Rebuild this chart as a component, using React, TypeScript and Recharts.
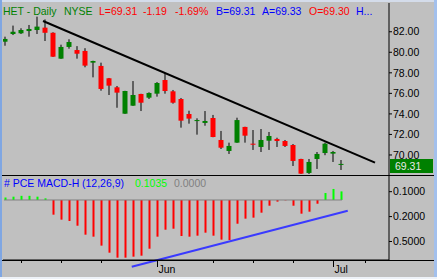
import React from 'react'
import { ComposedChart, Bar, XAxis, YAxis, ReferenceLine, Cell } from 'recharts'

// HET daily, May 4 - Jul 5 2006
const dates = [
  'May 4', 'May 5', 'May 8', 'May 9', 'May 10', 'May 11', 'May 12', 'May 15', 'May 16', 'May 17',
  'May 18', 'May 19', 'May 22', 'May 23', 'May 24', 'May 25', 'May 26', 'May 30', 'May 31', 'Jun 1',
  'Jun 2', 'Jun 5', 'Jun 6', 'Jun 7', 'Jun 8', 'Jun 9', 'Jun 12', 'Jun 13', 'Jun 14', 'Jun 15',
  'Jun 16', 'Jun 19', 'Jun 20', 'Jun 21', 'Jun 22', 'Jun 23', 'Jun 26', 'Jun 27', 'Jun 28', 'Jun 29',
  'Jun 30', 'Jul 3', 'Jul 5',
]
const open = [
  81.03, 81.78, 81.85, 82.07, 82.17, 82.40, 81.90, 79.38, 80.52, 80.22,
  80.13, 78.99, 78.67, 77.47, 76.59, 74.02, 74.80, 75.94, 75.58, 75.97,
  77.30, 76.20, 75.45, 73.99, 73.30, 73.12, 73.60, 71.46, 70.39, 71.20,
  72.73, 71.10, 70.78, 71.39, 71.56, 71.36, 70.97, 69.61, 68.25, 69.61,
  70.19, 70.13, 69.11,
]
const high = [
  81.52, 82.60, 82.34, 82.66, 83.47, 83.20, 81.95, 80.74, 81.27, 80.60,
  80.40, 79.18, 78.99, 77.50, 76.72, 76.25, 77.20, 75.96, 76.10, 77.10,
  77.96, 76.33, 75.55, 74.31, 73.57, 74.28, 73.90, 72.34, 71.20, 73.63,
  72.75, 72.43, 72.53, 72.24, 71.68, 71.46, 71.07, 69.63, 69.61, 70.29,
  71.20, 70.39, 69.51,
]
const low = [
  80.64, 81.68, 81.78, 81.52, 81.78, 81.10, 79.55, 79.36, 80.35, 79.38,
  78.54, 77.56, 76.26, 75.84, 74.60, 74.00, 74.78, 74.28, 75.45, 75.68,
  75.97, 75.00, 72.66, 73.05, 71.98, 72.85, 71.73, 70.58, 70.10, 71.18,
  71.20, 70.49, 70.29, 70.49, 70.78, 70.78, 68.93, 68.16, 68.15, 68.64,
  69.98, 69.32, 68.54,
]
const close = [
  81.30, 82.00, 82.17, 82.27, 82.50, 81.90, 79.57, 80.52, 81.00, 79.86,
  78.70, 79.15, 76.43, 76.75, 76.07, 76.23, 75.84, 75.09, 76.04, 77.01,
  76.23, 75.09, 73.34, 73.54, 73.40, 73.31, 71.75, 70.71, 70.88, 73.40,
  71.88, 71.00, 71.46, 71.85, 71.36, 70.88, 69.42, 68.18, 69.32, 70.10,
  71.10, 70.29, 69.13,
]
// MACD histogram (12,26,9)
const macdHist = [
  0.03, 0.04, 0.05, 0.05, 0.04, 0.02, -0.177, -0.237, -0.253, -0.31,
  -0.418, -0.442, -0.55, -0.635, -0.695, -0.695, -0.683, -0.671, -0.587, -0.442,
  -0.358, -0.346, -0.434, -0.442, -0.43, -0.394, -0.43, -0.478, -0.482, -0.286,
  -0.225, -0.213, -0.153, -0.069, -0.02, -0.004, -0.069, -0.165, -0.141, -0.045,
  0.084, 0.133, 0.1035,
]

const priceTicks = [70, 72, 74, 76, 78, 80, 82]
const macdTicks = [0.1, -0.2, -0.5]
// Mondays (bar index), month starts get a label
const weekTicks = [2, 7, 12, 19, 26, 31, 36, 41, 45]
const monthLabels: Record<number, string> = { 19: 'Jun', 41: 'Jul' }

// hand drawn trend lines (bar index, value)
const priceTrend = [{ i: 4.69, v: 83.05 }, { i: 46.19, v: 69.25 }]
const macdTrend = [{ i: 15.78, v: -0.804 }, { i: 42.78, v: -0.129 }]

const FONT = '"Liberation Sans", Arial, sans-serif'
const X_DOMAIN: [number, number] = [-0.3125, 47.9375]

const rows = dates.map((date, i) => ({
  i,
  date,
  open: open[i],
  high: high[i],
  low: low[i],
  close: close[i],
  range: [low[i], high[i]],
  macd: macdHist[i],
}))

function Candle(props: any) {
  const { x, y, width, height, payload } = props
  let top = y
  let h = height
  if (h < 0) { top = y + h; h = -h }
  const k = h / (payload.high - payload.low)
  const bodyTop = top + (payload.high - Math.max(payload.open, payload.close)) * k
  const bodyH = Math.max(1, Math.abs(payload.open - payload.close) * k)
  const cx = x + width / 2
  const up = payload.close >= payload.open
  return (
    <g>
      <rect x={cx - 0.5} y={top} width={1} height={h} fill="#000" />
      <rect x={x} y={bodyTop} width={width} height={bodyH} fill={up ? '#008000' : '#ff0000'} />
    </g>
  )
}

function WeekTick(props: any) {
  const { x, y, payload } = props
  const label = monthLabels[payload.value]
  return (
    <g>
      <line x1={x} y1={y} x2={x} y2={y + (label ? 7 : 3)} stroke="#000" />
      {label && (
        <text x={x + 1} y={y + 13} fontSize={10.5} fontFamily={FONT} fill="#000">{label}</text>
      )}
    </g>
  )
}

const axisTick = { fill: '#000', fontSize: 10.5, fontFamily: FONT }

export default function App() {
  return (
    <div style={{ position: 'fixed', left: 0, top: 0, width: 437, height: 279, background: '#c0c0c0', overflow: 'hidden' }}>
      <div style={{ position: 'absolute', left: 0, top: 0 }}>
        <ComposedChart width={437} height={175} data={rows} margin={{ top: 3, right: 0, bottom: 0, left: 3 }}>
          <XAxis type="number" dataKey="i" domain={X_DOMAIN} allowDataOverflow hide />
          <YAxis
            orientation="right"
            width={48}
            domain={[68.05, 84.8]}
            allowDataOverflow
            ticks={priceTicks}
            interval={0}
            tickFormatter={(v: number) => v.toFixed(2)}
            axisLine={{ stroke: '#000' }}
            tickLine={{ stroke: '#000' }}
            tickSize={3}
            tickMargin={1}
            tick={axisTick}
          />
          <Bar dataKey="range" barSize={5} shape={<Candle />} isAnimationActive={false} />
          <ReferenceLine
            segment={[{ x: priceTrend[0].i, y: priceTrend[0].v }, { x: priceTrend[1].i, y: priceTrend[1].v }]}
            stroke="#000"
            strokeWidth={2}
            ifOverflow="visible"
          />
        </ComposedChart>
      </div>
      <div style={{ position: 'absolute', left: 0, top: 175 }}>
        <ComposedChart width={437} height={104} data={rows} margin={{ top: 0, right: 0, bottom: 0, left: 3 }}>
          <XAxis
            type="number"
            dataKey="i"
            domain={X_DOMAIN}
            allowDataOverflow
            ticks={weekTicks}
            interval={0}
            height={19}
            axisLine={{ stroke: '#000' }}
            tickLine={false}
            tickSize={0}
            tickMargin={0}
            tick={<WeekTick />}
          />
          <YAxis
            orientation="right"
            width={48}
            domain={[-0.723, 0.301]}
            allowDataOverflow
            ticks={macdTicks}
            interval={0}
            tickFormatter={(v: number) => Math.abs(v).toFixed(4)}
            axisLine={{ stroke: '#000' }}
            tickLine={{ stroke: '#000' }}
            tickSize={3}
            tickMargin={1}
            tick={axisTick}
          />
          <ReferenceLine segment={[{ x: -0.19, y: 0 }, { x: 42.06, y: 0 }]} stroke="#808080" />
          <Bar dataKey="macd" barSize={2} isAnimationActive={false}>
            {rows.map((r, i) => (
              <Cell key={i} fill={r.macd >= 0 ? '#00ff00' : '#ff0000'} />
            ))}
          </Bar>
          <ReferenceLine
            segment={[{ x: macdTrend[0].i, y: macdTrend[0].v }, { x: macdTrend[1].i, y: macdTrend[1].v }]}
            stroke="#3a3aff"
            strokeWidth={2}
            ifOverflow="visible"
          />
        </ComposedChart>
      </div>
      <svg width={437} height={279} style={{ position: 'absolute', left: 0, top: 0, pointerEvents: 'none' }}>
        <g fontFamily={FONT} fontSize={10.5}>
          <text x={3} y={15} fill="#008000">HET - Daily</text>
          <text x={64} y={15} fill="#008000">NYSE</text>
          <text x={99} y={15} fill="#ff0000">L=69.31</text>
          <text x={143} y={15} fill="#ff0000">-1.19</text>
          <text x={175} y={15} fill="#ff0000">-1.69%</text>
          <text x={216} y={15} fill="#0000ff">B=69.31</text>
          <text x={262} y={15} fill="#0000ff">A=69.33</text>
          <text x={309} y={15} fill="#ff0000">O=69.30</text>
          <text x={356} y={15} fill="#0000ff">H...</text>
          <text x={4} y={187} fill="#0000ff">#  PCE MACD-H</text>
          <text x={82} y={187} fill="#0000ff">(12,26,9)</text>
          <text x={135} y={187} fill="#00ff00">0.1035</text>
          <text x={174} y={187} fill="#808080">0.0000</text>
        </g>
        <rect x={390} y={159} width={43} height={14} fill="#008000" />
        <text x={395} y={169.5} fill="#e8e8e8" fontFamily={FONT} fontSize={10.5}>69.31</text>
        <line x1={0} y1={175.5} x2={434} y2={175.5} stroke="#000" />
        <line x1={0} y1={260.5} x2={434} y2={260.5} stroke="#000" />
        <rect x={0} y={0} width={437} height={2} fill="#d4dcea" />
        <rect x={0} y={0} width={2} height={279} fill="#7fa6e2" />
        <rect x={434} y={0} width={3} height={279} fill="#a3c0ec" />
        <rect x={0} y={277} width={437} height={2} fill="#eef2f8" />
      </svg>
    </div>
  )
}
